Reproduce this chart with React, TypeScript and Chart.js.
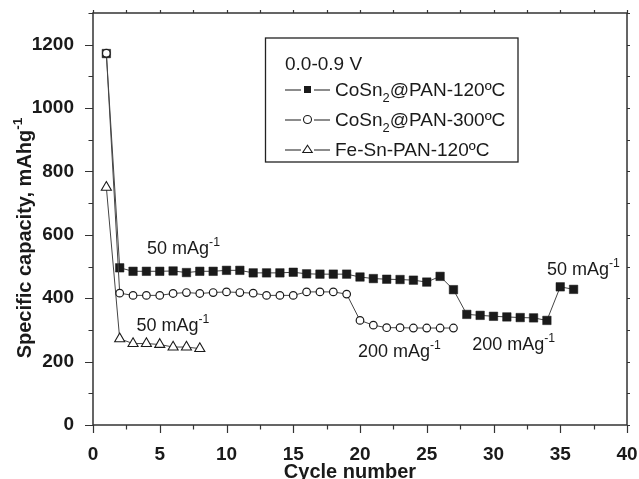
import React, { useEffect, useRef } from "react";
import { Chart, registerables } from "chart.js";

Chart.register(...registerables);

// ---------- data ----------
const squareCycles = [1, 2, 3, 4, 5, 6, 7, 8, 9, 10, 11, 12, 13, 14, 15, 16, 17, 18, 19, 20, 21, 22, 23, 24, 25, 26, 27, 28, 29, 30, 31, 32, 33, 34, 35, 36];
const squareValues = [1172, 496, 485, 485, 485, 486, 481, 485, 485, 488, 488, 480, 480, 480, 482, 477, 476, 476, 476, 467, 462, 460, 459, 457, 451, 469, 427, 349, 346, 343, 341, 339, 338, 330, 436, 428];

const circleCycles = [1, 2, 3, 4, 5, 6, 7, 8, 9, 10, 11, 12, 13, 14, 15, 16, 17, 18, 19, 20, 21, 22, 23, 24, 25, 26, 27];
const circleValues = [1173, 416, 409, 409, 409, 415, 418, 415, 418, 420, 418, 416, 409, 409, 409, 420, 420, 420, 413, 330, 315, 307, 307, 306, 306, 306, 306];

const triangleCycles = [1, 2, 3, 4, 5, 6, 7, 8];
const triangleValues = [750, 272, 257, 257, 254, 246, 246, 241];

const seriesNames = ["CoSn_{2}@PAN-120ºC", "CoSn_{2}@PAN-300ºC", "Fe-Sn-PAN-120ºC"];
const legendTitle = "0.0-0.9 V";

const xTickValues = [0, 5, 10, 15, 20, 25, 30, 35, 40];
const yTickValues = [0, 200, 400, 600, 800, 1000, 1200];

const xTitle = "Cycle number";
const yTitle = "Specific capacity, mAhg^{-1}";

const annotationTexts = ["50 mAg^{-1}", "50 mAg^{-1}", "200 mAg^{-1}", "200 mAg^{-1}", "50 mAg^{-1}"];
const annotationCycles = [4.05, 3.25, 19.85, 28.4, 34.0];
const annotationCapacities = [561, 318, 235, 258, 495];

// ---------- helpers ----------
const FONT = "'Liberation Sans', Arial, Helvetica, sans-serif";
const INK = "#1a1a1a";

type Seg = { t: string; kind: "n" | "sup" | "sub" };
function parseRich(s: string): Seg[] {
  const parts = s.split(/(\^\{[^}]*\}|_\{[^}]*\})/).filter((p) => p.length);
  return parts.map((p) => {
    if (p.startsWith("^{")) return { t: p.slice(2, -1), kind: "sup" as const };
    if (p.startsWith("_{")) return { t: p.slice(2, -1), kind: "sub" as const };
    return { t: p, kind: "n" as const };
  });
}
function fontFor(size: number, bold: boolean) {
  return `${bold ? "bold " : ""}${size}px ${FONT}`;
}
function richWidth(ctx: CanvasRenderingContext2D, s: string, size: number, bold: boolean) {
  let w = 0;
  for (const seg of parseRich(s)) {
    ctx.font = fontFor(seg.kind === "n" ? size : size * 0.68, bold);
    w += ctx.measureText(seg.t).width;
  }
  return w;
}
function drawRich(ctx: CanvasRenderingContext2D, s: string, x: number, y: number, size: number, bold: boolean, align: "left" | "center" = "left") {
  let cx = align === "center" ? x - richWidth(ctx, s, size, bold) / 2 : x;
  ctx.textAlign = "left";
  ctx.textBaseline = "alphabetic";
  for (const seg of parseRich(s)) {
    const fs = seg.kind === "n" ? size : size * 0.68;
    ctx.font = fontFor(fs, bold);
    const dy = seg.kind === "sup" ? -size * 0.42 : seg.kind === "sub" ? size * 0.3 : 0;
    ctx.fillText(seg.t, cx, y + dy);
    cx += ctx.measureText(seg.t).width;
  }
}

function drawMarker(ctx: CanvasRenderingContext2D, style: string, x: number, y: number, r: number) {
  ctx.save();
  ctx.lineWidth = 1.1;
  ctx.strokeStyle = INK;
  if (style === "rect") {
    ctx.fillStyle = INK;
    ctx.fillRect(x - r, y - r, 2 * r, 2 * r);
  } else if (style === "circle") {
    ctx.fillStyle = "#fff";
    ctx.beginPath();
    ctx.arc(x, y, r, 0, Math.PI * 2);
    ctx.fill();
    ctx.stroke();
  } else {
    ctx.fillStyle = "#fff";
    ctx.beginPath();
    const h = r * 1.5;
    ctx.moveTo(x, y - h * 0.62);
    ctx.lineTo(x + r * 1.05, y + h * 0.45);
    ctx.lineTo(x - r * 1.05, y + h * 0.45);
    ctx.closePath();
    ctx.fill();
    ctx.stroke();
  }
  ctx.restore();
}

const decorPlugin = {
  id: "decor",
  afterDraw(chart: any) {
    const ctx: CanvasRenderingContext2D = chart.ctx;
    const { left, right, top, bottom } = chart.chartArea;
    const xs = chart.scales.x;
    const ys = chart.scales.y;
    ctx.save();

    // frame
    ctx.strokeStyle = "#333";
    ctx.lineWidth = 1.5;
    ctx.strokeRect(left, top, right - left, bottom - top);

    // ticks
    const xMinor: number[] = [];
    for (let i = 0; i < xTickValues.length - 1; i++) xMinor.push((xTickValues[i] + xTickValues[i + 1]) / 2);
    const yMinor: number[] = [];
    for (let i = 0; i < yTickValues.length - 1; i++) yMinor.push((yTickValues[i] + yTickValues[i + 1]) / 2);
    yMinor.push(yTickValues[yTickValues.length - 1] + (yTickValues[1] - yTickValues[0]) / 2);

    ctx.lineWidth = 1.2;
    ctx.beginPath();
    for (const v of xTickValues) {
      const px = Math.round(xs.getPixelForValue(v)) + 0.5;
      ctx.moveTo(px, bottom); ctx.lineTo(px, bottom + 8);
      ctx.moveTo(px, top); ctx.lineTo(px, top - 3);
    }
    for (const v of xMinor) {
      const px = Math.round(xs.getPixelForValue(v)) + 0.5;
      ctx.moveTo(px, bottom); ctx.lineTo(px, bottom + 4.5);
      ctx.moveTo(px, top); ctx.lineTo(px, top - 3);
    }
    for (const v of yTickValues) {
      const py = Math.round(ys.getPixelForValue(v)) + 0.5;
      ctx.moveTo(left, py); ctx.lineTo(left - 8, py);
      ctx.moveTo(right, py); ctx.lineTo(right + 3, py);
    }
    for (const v of yMinor) {
      const py = Math.round(ys.getPixelForValue(v)) + 0.5;
      ctx.moveTo(left, py); ctx.lineTo(left - 4.5, py);
      ctx.moveTo(right, py); ctx.lineTo(right + 3, py);
    }
    ctx.stroke();

    // axis titles
    ctx.fillStyle = INK;
    drawRich(ctx, xTitle, 350, 477.5, 20, true, "center");
    ctx.save();
    ctx.translate(30.5, 238);
    ctx.rotate(-Math.PI / 2);
    drawRich(ctx, yTitle, 0, 0, 20, true, "center");
    ctx.restore();

    // annotations
    const aSize = 18;
    for (let i = 0; i < annotationTexts.length; i++) {
      const px = xs.getPixelForValue(annotationCycles[i]);
      const py = ys.getPixelForValue(annotationCapacities[i]);
      drawRich(ctx, annotationTexts[i], px, py + aSize * 0.36, aSize, false);
    }

    // legend
    const bx = 265.5, by = 38, bw = 252.5, bh = 124;
    ctx.strokeStyle = "#222";
    ctx.lineWidth = 1.3;
    ctx.strokeRect(bx, by, bw, bh);
    const lSize = 19;
    drawRich(ctx, legendTitle, 285, 63 + lSize * 0.36, lSize, false);
    const rowsY = [89.5, 119.5, 149.5];
    const styles = ["rect", "circle", "triangle"];
    const mSizes = [3.5, 4, 4.5];
    for (let i = 0; i < seriesNames.length; i++) {
      const y = rowsY[i];
      ctx.strokeStyle = INK;
      ctx.lineWidth = 1.1;
      ctx.beginPath();
      ctx.moveTo(285, y + 0.5); ctx.lineTo(301, y + 0.5);
      ctx.moveTo(314, y + 0.5); ctx.lineTo(330, y + 0.5);
      ctx.stroke();
      drawMarker(ctx, styles[i], 307.5, y, mSizes[i]);
      ctx.fillStyle = INK;
      drawRich(ctx, seriesNames[i], 335, y + lSize * 0.36, lSize, false);
    }
    ctx.restore();
  },
};

function clearPad(s: any) {
  s.paddingLeft = 0;
  s.paddingRight = 0;
  s.paddingTop = 0;
  s.paddingBottom = 0;
}

export default function App() {
  const canvasRef = useRef<HTMLCanvasElement | null>(null);

  useEffect(() => {
    if (!canvasRef.current) return;
    const toPoints = (xs: number[], ys: number[]) => xs.map((x, i) => ({ x, y: ys[i] }));
    const tickFont = { family: FONT, size: 19, weight: "bold" as const };
    const chart = new Chart(canvasRef.current, {
      type: "line",
      data: {
        datasets: [
          {
            label: seriesNames[0],
            data: toPoints(squareCycles, squareValues),
            borderColor: "#444",
            borderWidth: 1,
            pointStyle: "rect",
            pointRadius: 6,
            pointBackgroundColor: INK,
            pointBorderColor: INK,
            pointBorderWidth: 0.5,
            order: 1,
          },
          {
            label: seriesNames[1],
            data: toPoints(circleCycles, circleValues),
            borderColor: "#444",
            borderWidth: 1,
            pointStyle: "circle",
            pointRadius: 3.8,
            pointBackgroundColor: "#fff",
            pointBorderColor: INK,
            pointBorderWidth: 1.2,
            order: 0,
          },
          {
            label: seriesNames[2],
            data: toPoints(triangleCycles, triangleValues),
            borderColor: "#444",
            borderWidth: 1,
            pointStyle: "triangle",
            pointRadius: 5.8,
            pointBackgroundColor: "#fff",
            pointBorderColor: INK,
            pointBorderWidth: 1.1,
            order: 2,
          },
        ],
      },
      options: {
        responsive: false,
        devicePixelRatio: 1,
        animation: false,
        events: [],
        layout: { padding: { left: 0, top: 13, right: 12, bottom: 0 } },
        plugins: { legend: { display: false }, tooltip: { enabled: false } },
        scales: {
          x: {
            type: "linear",
            min: 0,
            max: 40,
            grid: { display: false },
            border: { display: false },
            ticks: { font: tickFont, color: INK, padding: 10, maxRotation: 0, autoSkip: false, callback: (v: any) => String(v) },
            afterBuildTicks: (s: any) => { s.ticks = xTickValues.map((value) => ({ value })); },
            afterFit: (s: any) => { s.height = 54; clearPad(s); },
          },
          y: {
            type: "linear",
            min: 0,
            max: 1300,
            grid: { display: false },
            border: { display: false },
            ticks: { font: tickFont, color: INK, padding: 11, autoSkip: false, callback: (v: any) => String(v) },
            afterBuildTicks: (s: any) => { s.ticks = yTickValues.map((value) => ({ value })); },
            afterFit: (s: any) => { s.width = 93; clearPad(s); },
          },
        },
      },
      plugins: [decorPlugin],
    });
    return () => chart.destroy();
  }, []);

  return (
    <div style={{ position: "absolute", left: 0, top: 0, width: 639, height: 479, background: "#fff" }}>
      <canvas ref={canvasRef} width={639} height={479} style={{ display: "block" }} />
    </div>
  );
}
